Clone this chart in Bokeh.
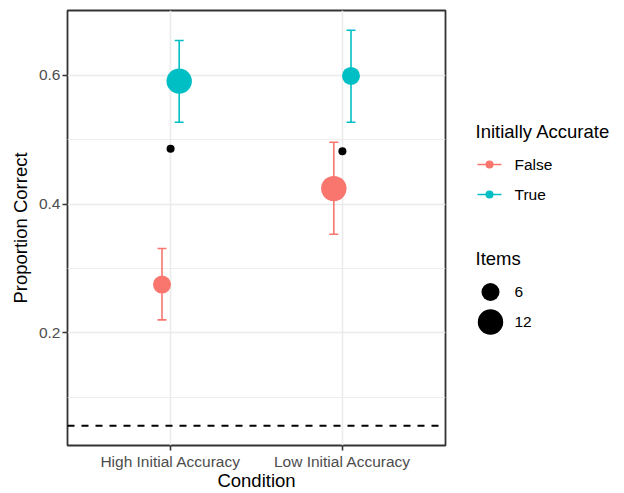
import math
from bokeh.plotting import figure
from bokeh.models import (ColumnDataSource, FactorRange, Range1d, FixedTicker, Span)
from bokeh.transform import dodge
from bokeh.layouts import row
from bokeh.core.properties import value
from bokeh.embed import file_html
from bokeh.resources import INLINE

# ---------------- data ----------------
conditions = ["High Initial Accuracy", "Low Initial Accuracy"]
accurate_levels = ["False", "True"]

mean_false = [0.275, 0.424]
lower_false = [0.220, 0.353]
upper_false = [0.331, 0.496]
items_false = [6, 12]

mean_true = [0.591, 0.599]
lower_true = [0.527, 0.527]
upper_true = [0.654, 0.670]
items_true = [12, 6]

black_points = [0.486, 0.482]
chance_level = 0.0556

y_ticks = [0.2, 0.4, 0.6]
y_minor_ticks = [0.1, 0.3, 0.5]
legend_items = [6, 12]

# ---------------- style ----------------
FONT = "Liberation Sans"
COLORS = {"False": "#F8766D", "True": "#00BFC4"}
DODGE = 0.05
CAP_HALF = 0.026
BASE_SIZE = 18.0  # diameter in px for 6 items


def size_for(n):
    return BASE_SIZE * math.sqrt(n / 6.0)


all_low = min([chance_level] + lower_false + lower_true)
all_high = max(upper_false + upper_true)
pad = 0.05 * (all_high - all_low)

x_range = FactorRange(factors=conditions, range_padding=0.1, range_padding_units="percent")
p = figure(x_range=x_range, y_range=Range1d(all_low - pad, all_high + pad),
           width=448, height=493, output_backend="svg", toolbar_location=None, title=None,
           min_border_left=67, min_border_right=3, min_border_top=10, min_border_bottom=48)
p.frame_align = False

p.background_fill_color = "white"
p.border_fill_color = "white"
p.outline_line_color = "#333333"
p.outline_line_width = 1.8

# grids
p.ygrid.ticker = FixedTicker(ticks=y_ticks, minor_ticks=y_minor_ticks)
p.ygrid.grid_line_color = "#EBEBEB"
p.ygrid.grid_line_width = 1.6
p.ygrid.minor_grid_line_color = "#EBEBEB"
p.ygrid.minor_grid_line_width = 0.9
p.xgrid.grid_line_color = "#EBEBEB"
p.xgrid.grid_line_width = 1.6

# axes
p.yaxis.ticker = FixedTicker(ticks=y_ticks, minor_ticks=[])
for ax in (p.xaxis[0], p.yaxis[0]):
    ax.axis_line_color = None
    ax.major_tick_out = 5
    ax.major_tick_in = 0
    ax.minor_tick_out = 0
    ax.minor_tick_in = 0
    ax.major_tick_line_color = "#333333"
    ax.major_tick_line_width = 1.6
    ax.major_label_text_font = FONT
    ax.major_label_text_font_size = "15.5px"
    ax.major_label_text_color = "#4D4D4D"
    ax.major_label_standoff = 2
    ax.axis_label_text_font = FONT
    ax.axis_label_text_font_size = "18.5px"
    ax.axis_label_text_font_style = "normal"
    ax.axis_label_text_color = "black"

p.xaxis.axis_label = "Condition"
p.xaxis.axis_label_standoff = -3
p.yaxis.axis_label = "Proportion Correct"
p.yaxis.axis_label_standoff = 5

# chance line
p.add_layout(Span(location=chance_level, dimension="width", line_color="black",
                  line_dash="7 7", line_width=1.8))

series = [
    ("False", -DODGE, mean_false, lower_false, upper_false, items_false),
    ("True", DODGE, mean_true, lower_true, upper_true, items_true),
]
for name, off, mean, lo, hi, items in series:
    src = ColumnDataSource(dict(cond=conditions, mean=mean, lo=lo, hi=hi,
                                size=[size_for(n) for n in items]))
    col = COLORS[name]
    xc = dodge("cond", off, range=x_range)
    p.segment(x0=xc, y0="lo", x1=xc, y1="hi", source=src, line_color=col, line_width=1.6)
    p.segment(x0=dodge("cond", off - CAP_HALF, range=x_range), y0="lo",
              x1=dodge("cond", off + CAP_HALF, range=x_range), y1="lo",
              source=src, line_color=col, line_width=1.6)
    p.segment(x0=dodge("cond", off - CAP_HALF, range=x_range), y0="hi",
              x1=dodge("cond", off + CAP_HALF, range=x_range), y1="hi",
              source=src, line_color=col, line_width=1.6)
    p.scatter(x=xc, y="mean", size="size", source=src, fill_color=col, line_color=None)

bsrc = ColumnDataSource(dict(cond=conditions, val=black_points))
p.scatter(x="cond", y="val", size=8, source=bsrc, fill_color="black", line_color=None)

# ---------------- legend panel ----------------
LW, LH = 176, 493
lg = figure(width=LW, height=LH, x_range=Range1d(0, LW), y_range=Range1d(LH, 0),
            output_backend="svg", toolbar_location=None, x_axis_type=None, y_axis_type=None,
            title=None, min_border=0, min_border_left=0, min_border_right=0,
            min_border_top=0, min_border_bottom=0)
lg.frame_align = False
lg.outline_line_color = None
lg.grid.visible = False
lg.background_fill_color = "white"
lg.border_fill_color = "white"

lg.text(x=[27], y=[131], text=["Initially Accurate"], text_font=value(FONT),
        text_font_size="18.5px", text_color="black", text_baseline="middle")
lsrc = ColumnDataSource(dict(y=[164, 194], lab=accurate_levels,
                             col=[COLORS[a] for a in accurate_levels]))
lg.segment(x0=29, x1=53, y0="y", y1="y", source=lsrc, line_color="col", line_width=1.6)
lg.scatter(x=41, y="y", size=8, source=lsrc, fill_color="col", line_color=None)
lg.text(x=66, y="y", text="lab", source=lsrc, text_font=value(FONT),
        text_font_size="15.5px", text_color="black", text_baseline="middle")

lg.text(x=[27], y=[258], text=["Items"], text_font=value(FONT),
        text_font_size="18.5px", text_color="black", text_baseline="middle")
isrc = ColumnDataSource(dict(y=[291.5, 321.5], lab=[str(n) for n in legend_items],
                             size=[size_for(n) for n in legend_items]))
lg.scatter(x=42, y="y", size="size", source=isrc, fill_color="black", line_color=None)
lg.text(x=66, y="y", text="lab", source=isrc, text_font=value(FONT),
        text_font_size="15.5px", text_color="black", text_baseline="middle")

layout = row(p, lg, spacing=0)
open("out.html", "w").write(file_html(layout, INLINE))
